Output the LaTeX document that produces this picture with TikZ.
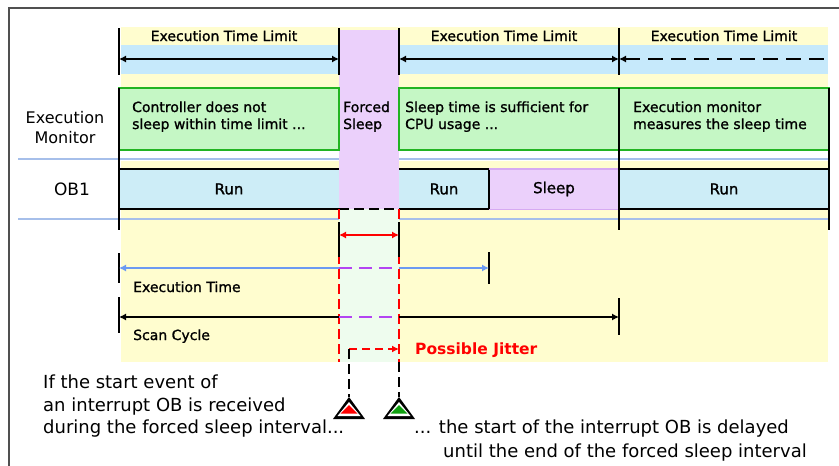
\documentclass[tikz,border=0pt]{standalone}
\usepackage{fontspec}
\setmainfont{DejaVu Sans}
\newfontfamily\pixfont{DejaVu Sans}[BoldFont={DejaVu Sans}, BoldFeatures={FakeBold=1.2}]
\usetikzlibrary{arrows.meta}
\definecolor{bgyellow}{HTML}{FFFDCF}
\definecolor{bandblue}{HTML}{C6E9FB}
\definecolor{boxgreen}{HTML}{C5F7C5}
\definecolor{edgegreen}{HTML}{22B422}
\definecolor{runblue}{HTML}{CDEDF7}
\definecolor{sleeppurple}{HTML}{EBD0FB}
\definecolor{sleepedge}{HTML}{D6AAF2}
\definecolor{sepblue}{HTML}{A6BFEA}
\definecolor{paleg}{HTML}{EEFCEE}
\definecolor{exblue}{HTML}{6C9AF2}
\definecolor{jitpurple}{HTML}{B344F2}
\definecolor{framegray}{HTML}{505050}
\definecolor{trgreen}{HTML}{10A010}
\tikzset{
  blk/.style={line width=1.6pt, black},
  tipL/.tip={Latex[length=7pt,width=7pt]},
  dimarrow/.style={line width=1.2pt, tipL-tipL},
  lbl/.style={inner sep=0pt, font=\pixfont\bfseries\fontsize{14}{16}\selectfont},
  bigtxt/.style={inner sep=0pt, anchor=base west, font=\fontsize{18}{22}\selectfont},
  sidetxt/.style={inner sep=0pt, anchor=base, font=\fontsize{16}{18}\selectfont},
  gbox/.style={fill=boxgreen, draw=edgegreen, line width=1.8pt, inner sep=0pt, minimum height=62pt},
  rbox/.style={fill=runblue, inner sep=0pt, minimum height=40pt, font=\pixfont\bfseries\fontsize{15}{16}\selectfont},
  sbox/.style={fill=sleeppurple, inner sep=0pt, minimum height=40pt, font=\pixfont\bfseries\fontsize{15}{16}\selectfont},
  reddash/.style={red, line width=1.4pt, dash pattern=on 10pt off 5pt},
  blkdash/.style={black, line width=1.4pt, dash pattern=on 10pt off 5pt},
  purdash/.style={jitpurple, line width=1.4pt, dash pattern=on 13pt off 7pt},
  sep/.style={sepblue, line width=1.6pt}
}
\begin{document}
\begin{tikzpicture}[x=1pt,y=-1pt]
\useasboundingbox (0,0) rectangle (839,466);
% backgrounds
\fill[bgyellow] (121,27) rectangle (828,362);
\fill[bandblue] (121,45) rectangle (828,74);
\fill[white] (121,151) rectangle (829,161);
\fill[paleg] (339,209) rectangle (399,362);
% frame
\draw[framegray, line width=2pt] (9,470) -- (9,8) -- (843,8);
% separators
\draw[sep] (18,159) -- (829,159);
\draw[sep] (18,219) -- (339,219);
\draw[sep] (399,219) -- (829,219);
% forced sleep column
\fill[sleeppurple] (339,30) rectangle (399,209);
% green boxes
\node[gbox, minimum width=220pt] (g1) at (229,119) {};
\node[gbox, minimum width=430pt] (g2) at (614,119) {};
% run/sleep boxes
\node[rbox, minimum width=220pt] (run1) at (229,189) {Run};
\node[rbox, minimum width=90pt] (run2) at (444,189) {Run};
\node[sbox, minimum width=130pt] (slp) at (554,189) {Sleep};
\node[rbox, minimum width=210pt] (run3) at (724,189) {Run};
\draw[blk] (run1.north west) -- (run1.north east);
\draw[blk] (run1.south west) -- (run1.south east);
\draw[blk] (run2.north west) -- (run2.north east) -- (run2.south east) -- (run2.south west);
\draw[sleepedge, line width=1.4pt] (slp.north west) -- (slp.north east);
\draw[sleepedge, line width=1.4pt] (slp.south west) -- (slp.south east);
\draw[blk] (run3.north west) -- (run3.north east) -- (run3.south east) -- (run3.south west);
\draw[black, line width=1.6pt, dash pattern=on 10pt off 5pt] (run1.south east) -- (run2.south west);
% main vertical lines
\draw[blk] (119,28) -- (119,75);
\draw[blk] (339,28) -- (339,75);
\draw[blk] (399,28) -- (399,75);
\draw[blk] (619,28) -- (619,75);
\draw[blk] (119,88) -- (119,230);
\draw[blk] (619,88) -- (619,230);
\draw[blk] (829,88) -- (829,230);
% top labels and arrows
\node[lbl, anchor=base] (lim1) at (224,41) {Execution Time Limit};
\node[lbl, anchor=base] (lim2) at (504,41) {Execution Time Limit};
\node[lbl, anchor=base] (lim3) at (724,41) {Execution Time Limit};
\coordinate (a1) at (119,59);
\coordinate (a2) at (339,59);
\coordinate (a3) at (399,59);
\coordinate (a4) at (619,59);
\coordinate (a5) at (829,59);
\draw[dimarrow] (a1) -- (a2);
\draw[dimarrow] (a3) -- (a4);
\draw[line width=1.2pt, tipL-, dash pattern=on 15pt off 8pt] (a4) -- (a5);
% box texts
\node[lbl, anchor=base west] (t1a) at (132,112) {Controller does not};
\node[lbl, anchor=base west] (t1b) at (132,129) {sleep within time limit ...};
\node[lbl, anchor=base west] (fs1) at (343,112) {Forced};
\node[lbl, anchor=base west] (fs2) at (343,129) {Sleep};
\node[lbl, anchor=base west] (t2a) at (405,112) {Sleep time is sufficient for};
\node[lbl, anchor=base west] (t2b) at (405,129) {CPU usage ...};
\node[lbl, anchor=base west] (t3a) at (633,112) {Execution monitor};
\node[lbl, anchor=base west] (t3b) at (633,129) {measures the sleep time};
% side labels
\node[sidetxt] (em1) at (65,123) {Execution};
\node[sidetxt] (em2) at (65,143) {Monitor};
\node[sidetxt, font=\fontsize{17}{18}\selectfont] (ob1) at (72,195) {OB1};
% red dashed verticals of the forced sleep interval
\coordinate (fL) at (339,209);
\coordinate (fR) at (399,209);
\coordinate (fLb) at (339,362);
\coordinate (fRb) at (399,362);
\draw[reddash] (fL) -- (fLb);
\draw[reddash] (fR) -- (fRb);
% forced sleep dimension
\draw[blk] (339,222) -- (339,257);
\draw[blk] (399,222) -- (399,257);
\coordinate (d1) at (339,235);
\coordinate (d2) at (399,235);
\draw[red, dimarrow] (d1) -- (d2);
% execution time
\coordinate (e1) at (119,268);
\coordinate (e2) at (339,268);
\coordinate (e3) at (399,268);
\coordinate (e4) at (489,268);
\draw[blk] (119,253) -- (119,283);
\draw[blk] (489,252) -- (489,284);
\draw[exblue, line width=1.2pt, tipL-] (e1) -- (e2);
\draw[purdash] (e2) -- (e3);
\draw[exblue, line width=1.2pt, -tipL] (e3) -- (e4);
\node[lbl, anchor=base west] (et) at (133,292) {Execution Time};
% scan cycle
\coordinate (s1) at (119,317);
\coordinate (s2) at (339,317);
\coordinate (s3) at (399,317);
\coordinate (s4) at (619,317);
\draw[blk] (119,297) -- (119,333);
\draw[blk] (619,298) -- (619,335);
\draw[black, line width=1.2pt, tipL-] (s1) -- (s2);
\draw[purdash] (s2) -- (s3);
\draw[black, line width=1.2pt, -tipL] (s3) -- (s4);
\node[lbl, anchor=base west] (sc) at (133,340) {Scan Cycle};
% possible jitter
\coordinate (jc) at (349,349);
\coordinate (je) at (399,349);
\coordinate (trR) at (349,397);
\coordinate (trG) at (399,397);
\draw[red, line width=1.4pt, dash pattern=on 8pt off 5pt, -{Latex[length=7pt,width=7pt]}] (jc) -- (je);
\draw[blkdash] (jc) -- (trR);
\draw[blkdash] (fRb) -- (trG);
\node[inner sep=0pt, anchor=base west, text=red, font=\bfseries\fontsize{15.5}{17}\selectfont] (pj) at (415,354) {Possible Jitter};
% triangles
\foreach \cx/\col in {349/red, 399/trgreen}{
  \fill[black] (\cx,397) -- (\cx+16,419) -- (\cx-16,419) -- cycle;
  \fill[white] (\cx,402) -- (\cx+11.5,416) -- (\cx-11.5,416) -- cycle;
  \fill[\col] (\cx,405) -- (\cx+8.5,413.5) -- (\cx-8.5,413.5) -- cycle;
}
% bottom texts
\node[bigtxt] (bl1) at (43,388) {If the start event of};
\node[bigtxt] (bl2) at (43,411) {an interrupt OB is received};
\node[bigtxt] (bl3) at (43,433) {during the forced sleep interval...};
\node[bigtxt] (br1) at (414,433) {... the start of the interrupt OB is delayed};
\node[bigtxt] (br2) at (443,457) {until the end of the forced sleep interval};
\end{tikzpicture}
\end{document}
